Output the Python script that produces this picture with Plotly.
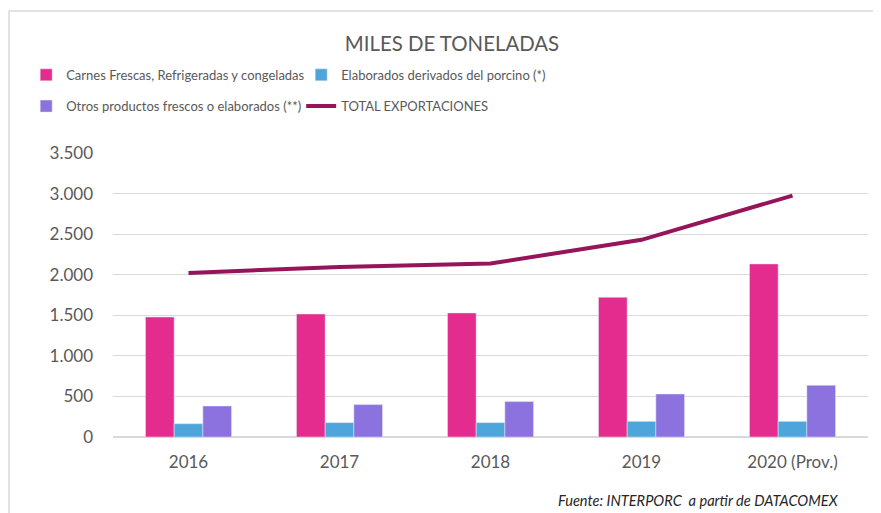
"""Exportaciones del sector porcino, miles de toneladas"""
import plotly.graph_objects as go

# Datos
YEARS = ["2016", "2017", "2018", "2019", "2020 (Prov.)"]
CARNES = [1479, 1516, 1529, 1722, 2133]
ELABORADOS = [164, 177, 177, 193, 193]
OTROS = [382, 399, 436, 530, 637]
TOTAL = [2022, 2095, 2138, 2430, 2975]

FONT = "Lato, Roboto, sans-serif"
GREY_TXT = "#595959"

fig = go.Figure()
fig.add_trace(go.Bar(x=YEARS, y=CARNES, name="Carnes Frescas, Refrigeradas y congeladas",
                     marker_color="#E32C8E", legend="legend"))
fig.add_trace(go.Bar(x=YEARS, y=ELABORADOS, name="Elaborados derivados del porcino (*)",
                     marker_color="#4EA5DB", legend="legend"))
fig.add_trace(go.Bar(x=YEARS, y=OTROS, name="Otros productos frescos o elaborados (**)",
                     marker_color="#8B72DF", legend="legend2"))
fig.add_trace(go.Scatter(x=YEARS, y=TOTAL, name="TOTAL EXPORTACIONES", mode="lines",
                         line=dict(color="#96145A", width=4), legend="legend2"))

# la página añade 8 px de margen arriba y a la izquierda
legend_common = dict(orientation="h", xanchor="left", yanchor="middle",
                     entrywidth=230, entrywidthmode="pixels",
                     font=dict(family=FONT, size=13, color=GREY_TXT),
                     bgcolor="rgba(0,0,0,0)", traceorder="normal")

fig.update_layout(
    width=865, height=505,
    margin=dict(l=105, r=5, t=145, b=76),
    paper_bgcolor="white", plot_bgcolor="white",
    separators=",.",
    barmode="group", bargap=0.43, bargroupgap=0,
    title=dict(text="MILES DE TONELADAS", xref="paper", x=0.449, xanchor="center",
               y=0.929, yanchor="middle",
               font=dict(family=FONT, size=20.4, color=GREY_TXT)),
    font=dict(family=FONT, color=GREY_TXT),
    legend=dict(x=-0.115, y=1.275, **legend_common),
    legend2=dict(x=-0.115, y=1.165, **legend_common),
    xaxis=dict(showgrid=False, showline=True, linecolor="#d9d9d9", linewidth=1,
               ticks="", tickfont=dict(family=FONT, size=17, color=GREY_TXT),
               ticklabelstandoff=10),
    yaxis=dict(range=[0, 3500], dtick=500, tickformat=",d",
               showgrid=True, gridcolor="#d9d9d9", gridwidth=1,
               zeroline=True, zerolinecolor="#d9d9d9",
               tickfont=dict(family=FONT, size=17, color=GREY_TXT),
               ticklabelstandoff=19),
)

# Marco del gráfico
fig.add_shape(type="rect", xref="paper", yref="paper",
              x0=-0.1377, x1=1.1, y0=-0.5, y1=1.5,
              line=dict(color="#d9d9d9", width=1.5), layer="below")

fig.add_annotation(text="<i>Fuente: INTERPORC  a partir de DATACOMEX</i>",
                   xref="paper", yref="paper", x=0.964, y=-0.222,
                   xanchor="right", yanchor="middle", showarrow=False,
                   font=dict(family=FONT, size=14.6, color="#262626"))

fig.write_html("out.html")
